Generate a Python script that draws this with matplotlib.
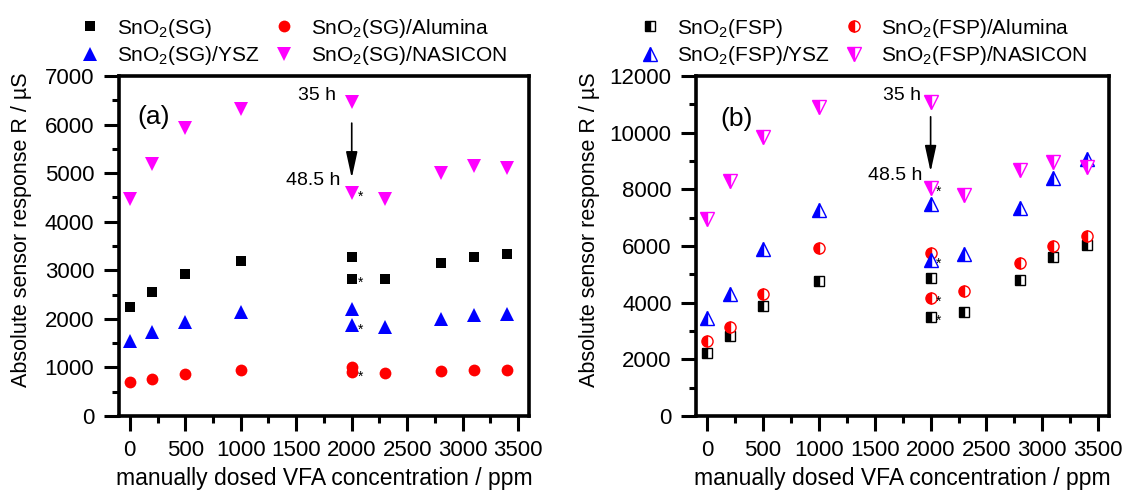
import matplotlib
matplotlib.use("Agg")
import matplotlib.pyplot as plt
from matplotlib.ticker import MultipleLocator
from matplotlib.lines import Line2D

plt.rcParams['font.family'] = ['Liberation Sans', 'DejaVu Sans']
plt.rcParams['mathtext.default'] = 'regular'
plt.rcParams['font.size'] = 15

# VFA concentrations (ppm); at 2000 ppm a second reading was taken after 48.5 h
conc = [0, 200, 500, 1000, 2000, 2300, 2800, 3100, 3400]
aged_conc = 2000

# sol-gel SnO2 sensors
sg = [2240, 2550, 2920, 3200, 3270, 2830, 3150, 3270, 3340]
sg_alumina = [690, 760, 860, 950, 1000, 880, 930, 950, 950]
sg_ysz = [1540, 1720, 1940, 2150, 2210, 1840, 2000, 2070, 2100]
sg_nasicon = [4460, 5180, 5920, 6330, 6470, 4460, 5000, 5150, 5100]
sg_aged = [2820, 900, 1870, 4600]

# flame spray pyrolysis SnO2 sensors
fsp = [2240, 2830, 3870, 4780, 4870, 3660, 4810, 5620, 6050]
fsp_alumina = [2630, 3130, 4310, 5930, 5760, 4400, 5400, 5990, 6350]
fsp_ysz = [3460, 4310, 5910, 7270, 7470, 5720, 7330, 8410, 9060]
fsp_nasicon = [6960, 8300, 9850, 10890, 11070, 7800, 8700, 8950, 8800]
fsp_aged = [3490, 4170, 5520, 8060]

sg_labels = ['SnO$_2$(SG)', 'SnO$_2$(SG)/Alumina', 'SnO$_2$(SG)/YSZ', 'SnO$_2$(SG)/NASICON']
fsp_labels = ['SnO$_2$(FSP)', 'SnO$_2$(FSP)/Alumina', 'SnO$_2$(FSP)/YSZ', 'SnO$_2$(FSP)/NASICON']

colors = ['black', 'red', 'blue', 'magenta']
markers = ['s', 'o', '^', 'v']
sizes = [7.5, 8.5, 10, 10]

fig = plt.figure(figsize=(11.42, 4.92), dpi=100)
ax1 = fig.add_axes([0.1039, 0.1545, 0.3596, 0.691])
ax2 = fig.add_axes([0.6095, 0.1545, 0.3619, 0.691])


def draw_panel(ax, series, aged, labels, half, ymax, ystep, tag, arrow, texts, ylab_x):
    handles = []
    for vals, a, lab, c, m, s in zip(series, aged, labels, colors, markers, sizes):
        style = dict(marker=m, ms=s, color=c, ls='none')
        if half:
            style.update(fillstyle='left', markerfacecolor=c,
                         markerfacecoloralt='white', markeredgecolor=c,
                         markeredgewidth=1.0, ms=s - 0.5)
        else:
            style.update(markeredgewidth=0)
        ax.plot(conc, vals, **style)
        ax.plot([aged_conc], [a], **style)
        ax.annotate('*', (aged_conc, a), xytext=(6, -3), textcoords='offset points',
                    ha='center', va='center', fontsize=10)
        handles.append(Line2D([], [], label=lab, **style))

    ax.set_xlim(-100, 3600)
    ax.set_ylim(0, ymax)
    ax.xaxis.set_major_locator(MultipleLocator(500))
    ax.xaxis.set_minor_locator(MultipleLocator(250))
    ax.yaxis.set_major_locator(MultipleLocator(ystep))
    ax.yaxis.set_minor_locator(MultipleLocator(ystep / 2))
    ax.tick_params(which='major', direction='out', length=10.5, width=2.2,
                   pad=7, labelsize=16)
    ax.tick_params(which='minor', direction='out', length=5, width=2.2)
    for sp in ax.spines.values():
        sp.set_linewidth(2.6)

    ax.set_xlabel('manually dosed VFA concentration / ppm', fontsize=16.5)
    ax.set_ylabel('Absolute sensor response R / µS', fontsize=15.5)
    ax.yaxis.set_label_coords(ylab_x, 0.547)
    ax.xaxis.set_label_coords(0.5, -0.15)

    ax.text(tag[1], tag[2], tag[0], fontsize=19, ha='center', va='center')
    ax.annotate('', xy=(aged_conc, arrow[1]), xytext=(aged_conc, arrow[0]),
                arrowprops=dict(arrowstyle='-|>,head_length=1.6,head_width=0.35',
                                mutation_scale=10, color='black', lw=1.2,
                                shrinkA=0, shrinkB=0))
    for t, x, y in texts:
        ax.text(x, y, t, fontsize=14, ha='center', va='center')

    order = [0, 2, 1, 3]
    return [handles[i] for i in order]


h1 = draw_panel(ax1, [sg, sg_alumina, sg_ysz, sg_nasicon], sg_aged, sg_labels,
                False, 7000, 1000, ('(a)', 216, 6156), (6030, 4900),
                [('35 h', 1688, 6609), ('48.5 h', 1655, 4844)], -0.211)
h2 = draw_panel(ax2, [fsp, fsp_alumina, fsp_ysz, fsp_nasicon], fsp_aged, fsp_labels,
                True, 12000, 2000, ('(b)', 267, 10482), (10560, 8620),
                [('35 h', 1748, 11329), ('48.5 h', 1682, 8506)], -0.232)

for ax, h, x0 in [(ax1, h1, 0.0643), (ax2, h2, 0.5546)]:
    ax.legend(handles=h, ncol=2, loc='upper left', bbox_to_anchor=(x0, 0.966),
              bbox_transform=fig.transFigure, frameon=False, borderpad=0,
              borderaxespad=0, handlelength=1.6, handletextpad=0.5,
              columnspacing=0.36, labelspacing=0.22, fontsize=15)

fig.savefig('out.png', dpi=100)
